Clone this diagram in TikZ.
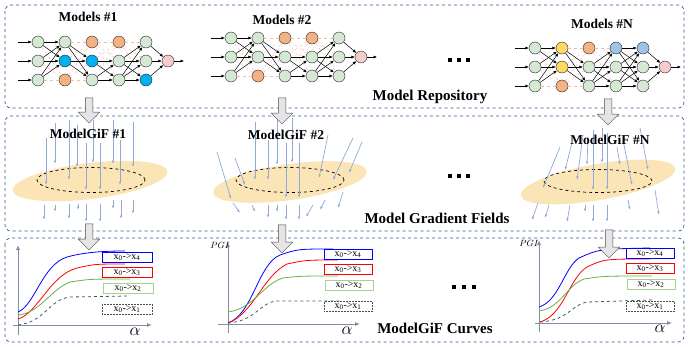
\documentclass[tikz,border=0pt]{standalone}
\usepackage{fontspec}
\setmainfont{Liberation Serif}
\usetikzlibrary{arrows.meta,shapes.arrows,shapes.geometric}

\definecolor{frameblue}{HTML}{2F5597}
\definecolor{nc0}{HTML}{D5E8D4}
\definecolor{nc1}{HTML}{00B0F0}
\definecolor{nc2}{HTML}{F4B183}
\definecolor{nc3}{HTML}{FFD966}
\definecolor{nc4}{HTML}{9DC3E6}
\definecolor{outpink}{HTML}{F4CCCC}
\definecolor{lostpink}{HTML}{F4B8AE}
\definecolor{blobfill}{HTML}{FBE5B6}
\definecolor{gradblue}{HTML}{8EAADB}
\definecolor{axisgray}{HTML}{7F8FA6}
\definecolor{cblue}{HTML}{0000FF}
\definecolor{cred}{HTML}{FF0000}
\definecolor{cgreen}{HTML}{70AD47}
\definecolor{lgreen}{HTML}{A9D18E}
\definecolor{cgray}{HTML}{44546A}

\tikzstyle{frame} = [draw=frameblue, dashed, line width=0.7pt, rounded corners=6pt]
\tikzstyle{unit} = [circle, draw=black!85, line width=0.4pt, minimum size=12pt, inner sep=0pt]
\tikzstyle{link} = [-{Latex[length=3.5pt,width=3pt]}, line width=0.5pt]
\tikzstyle{lost} = [lostpink, dashed, line width=0.4pt]
\tikzstyle{title} = [font=\fontsize{13.5}{14}\selectfont\bfseries]
\tikzstyle{panel} = [font=\fontsize{15}{16}\selectfont\bfseries]
\tikzstyle{pass} = [single arrow, shape border rotate=270, draw=black!70, fill=black!10, line width=0.5pt,
  inner sep=3.5pt, minimum width=17pt, single arrow head indent=0pt]
\tikzstyle{blob} = [ellipse, fill=blobfill, inner sep=0pt]
\tikzstyle{ring} = [ellipse, draw, dashed, line width=0.7pt, inner sep=0pt]
\tikzstyle{grad} = [gradblue, line width=0.7pt, -{Latex[length=3.5pt,width=2.5pt]}]
\tikzstyle{axis} = [axisgray, line width=0.8pt, -{Latex[length=5pt,width=4pt]}]
\tikzstyle{leg} = [draw, minimum height=10pt, inner sep=0pt, font=\fontsize{10}{10}\selectfont]
\tikzstyle{dotbox} = [fill, minimum size=3.5pt, inner sep=0pt]
\tikzstyle{curve} = [line width=0.8pt]

\newcommand{\xpair}[1]{x\textsubscript{0}->x\textsubscript{#1}}

\begin{document}
\begin{tikzpicture}[x=1pt,y=-1pt]
\useasboundingbox (0,0) rectangle (688,346);

% three panels
\draw[frame] (5,5) rectangle (684,108);
\draw[frame] (5,116) rectangle (684,231);
\draw[frame] (5,238) rectangle (684,342);

% model repository: 0 green, 1 blue, 2 orange (dropped), 3 yellow, 4 light blue
\foreach \net/\ox/\oy/\codes in {a/38/42/{0,0,0,0,1,2,2,1,0,2,0,0,0,0,1},
                                b/231/38/{0,0,0,0,0,2,2,0,0,2,0,0,0,0,0},
                                n/535/48/{0,0,0,3,3,2,2,0,0,4,0,0,4,0,0}} {
  \edef\arr{{\codes}}
  \foreach \c in {1,...,5}
    \foreach \r in {1,2,3} {
      \pgfmathtruncatemacro\idx{3*(\c-1)+\r-1}
      \pgfmathtruncatemacro\k{\arr[\idx]}
      \node[unit, fill=nc\k] (\net-\c-\r) at ({\ox+27*(\c-1)},{\oy+19*(\r-1)}) {};
    }
  \node[unit, fill=outpink] (\net-out) at ({\ox+27*4+22},{\oy+19}) {};
  \foreach \c [evaluate=\c as \d using int(\c+1)] in {1,...,4}
    \foreach \i in {1,2,3}
      \foreach \j in {1,2,3} {
        \pgfmathtruncatemacro\ia{3*(\c-1)+\i-1}
        \pgfmathtruncatemacro\ib{3*\c+\j-1}
        \pgfmathtruncatemacro\ka{\arr[\ia]}
        \pgfmathtruncatemacro\kb{\arr[\ib]}
        \pgfmathtruncatemacro\drop{or(\ka==2,\kb==2)}
        \ifnum\drop=1 \draw[lost] (\net-\c-\i) -- (\net-\d-\j);
        \else \draw[link] (\net-\c-\i) -- (\net-\d-\j); \fi
      }
  \foreach \r in {1,2,3} {
    \coordinate (\net-in-\r) at ({\ox-20},{\oy+19*(\r-1)});
    \draw[link] (\net-in-\r) -- (\net-1-\r);
    \draw[link] (\net-5-\r) -- (\net-out);
  }
  \coordinate (\net-end) at ({\ox+27*4+38},{\oy+19});
  \draw[link] (\net-out) -- (\net-end);
}

\node[title] (t1) at (88,17) {Models \#1};
\node[title] (t2) at (282,20) {Models \#2};
\node[title] (tn) at (602,24) {Models \#N};
\node[panel] (repo) at (430,97) {Model Repository};

% model gradient fields
\node[blob, minimum width=156pt, minimum height=36pt, rotate=7] (blob1) at (90,181) {};
\node[blob, minimum width=155pt, minimum height=36pt, rotate=8] (blob2) at (290,182) {};
\node[blob, minimum width=157pt, minimum height=36pt, rotate=10] (blobn) at (598,182) {};
\node[ring, minimum width=108pt, minimum height=25pt] (ring1) at (91,180) {};
\node[ring, minimum width=108pt, minimum height=25pt] (ring2) at (290,180) {};
\node[ring, minimum width=108pt, minimum height=23pt] (ringn) at (598,181) {};

\foreach \xa/\ya/\xb/\yb in {46/138/46/185, 55/123/55/164, 69/120/69/180, 77/125/77/167,
    86/143/86/190, 93/120/93/163, 100/143/100/190, 113/120/113/164, 120/140/120/185,
    133/122/133/167, 44/205/44/220, 55/205/55/212, 69/204/69/219, 78/204/78/210,
    86/204/86/222, 100/204/100/222, 113/200/113/209, 121/200/121/219, 133/200/133/214}
  \draw[grad] (\xa,\ya) -- (\xb,\yb);
\foreach \xa/\ya/\xb/\yb in {217/152/231/199, 235/158/245/185, 255/122/255/180, 268/140/268/180,
    277/118/277/165, 286/143/286/198, 292/118/292/163, 299/143/299/198, 328/135/319/178,
    353/138/333/180, 362/142/349/173, 233/203/240/213, 252/205/255/212, 268/205/268/218,
    277/205/277/212, 286/205/286/220, 299/205/299/220, 313/205/306/217, 325/200/320/210,
    343/192/338/208}
  \draw[grad] (\xa,\ya) -- (\xb,\yb);
\foreach \xa/\ya/\xb/\yb in {560/147/543/188, 572/143/565/170, 583/135/577/180, 588/137/587/165,
    593/130/593/190, 602/128/602/163, 607/133/607/190, 617/147/620/165, 623/140/632/185,
    640/128/648/170, 538/203/532/220, 549/205/545/218, 570/205/567/222, 585/205/585/212,
    593/205/593/222, 607/205/607/222, 628/200/630/210, 655/190/659/215}
  \draw[grad] (\xa,\ya) -- (\xb,\yb);

\node[title] (g1) at (88,134) {ModelGiF \#1};
\node[title] (g2) at (286,135) {ModelGiF \#2};
\node[title] (gn) at (610,140) {ModelGiF \#N};
\node[panel] (fields) at (437,218) {Model Gradient Fields};

% modelgif curves
\coordinate (a-yb) at (18,335);  \coordinate (a-yt) at (18,245);
\coordinate (a-xl) at (13,325);  \coordinate (a-xr) at (152,325);
\coordinate (b-yb) at (228,333); \coordinate (b-yt) at (228,242);
\coordinate (b-xl) at (218,324); \coordinate (b-xr) at (360,324);
\coordinate (n-yb) at (539,332); \coordinate (n-yt) at (539,240);
\coordinate (n-xl) at (535,323); \coordinate (n-xr) at (672,323);
\foreach \p in {a,b,n} {
  \draw[axis] (\p-yb) -- (\p-yt);
  \draw[axis] (\p-xl) -- (\p-xr);
}
\node[font=\fontsize{19}{19}\selectfont] (al1) at (135,332) {$\alpha$};
\node[font=\fontsize{19}{19}\selectfont] (al2) at (347,331) {$\alpha$};
\node[font=\fontsize{19}{19}\selectfont] (aln) at (660,329) {$\alpha$};
\node[font=\fontsize{9}{9}\selectfont] (pg2) at (220,245) {$PGI$};
\node[font=\fontsize{9}{9}\selectfont] (pgn) at (529,243) {$PGI$};

\begin{scope}[shift={(18,325)}]
  \draw[curve, cblue] (0,-13) .. controls (17,-20) and (24,-60) .. (49,-68) .. controls (67,-73) and (87,-74) .. (107,-74);
  \draw[curve, cred] (0,-6) .. controls (20,-12) and (32,-50) .. (59,-57) .. controls (77,-61) .. (107,-61);
  \draw[curve, cgreen] (0,-10) .. controls (22,-12) and (32,-35) .. (52,-43) .. controls (72,-46) .. (112,-46);
  \draw[curve, cgray, dashed] (0,0) .. controls (27,-3) and (30,-25) .. (52,-28) -- (110,-29);
\end{scope}
\begin{scope}[shift={(228,324)}]
  \draw[curve, cblue] (0,-1) .. controls (25,-10) and (30,-60) .. (52,-69) .. controls (70,-75) .. (105,-75);
  \draw[curve, cred] (0,-1) .. controls (25,-10) and (35,-48) .. (59,-60) .. controls (78,-64) .. (110,-64);
  \draw[curve, cgreen] (0,-12) .. controls (25,-15) and (35,-40) .. (55,-46) .. controls (72,-48) .. (110,-48);
  \draw[curve, cgray, dashed] (0,-1) .. controls (28,-3) and (32,-22) .. (49,-23) -- (112,-23);
\end{scope}
\begin{scope}[shift={(539,323)}]
  \draw[curve, cblue] (0,-16) .. controls (20,-22) and (25,-55) .. (40,-65) .. controls (60,-74) .. (111,-75);
  \draw[curve, cred] (1,-1) .. controls (25,-8) and (30,-45) .. (48,-56) .. controls (65,-64) .. (111,-64);
  \draw[curve, cgreen] (0,-12) .. controls (22,-15) and (28,-38) .. (45,-44) .. controls (65,-47) .. (113,-47);
  \draw[curve, cgray, dashed] (1,-1) .. controls (30,-3) and (32,-18) .. (48,-21) -- (114,-23);
\end{scope}

\foreach \p/\x/\w/\ya/\yb/\yc/\yd in {a/127/50/257/272/288/309, b/348/48/254/269/285/306, n/650/48/253/268/284/306} {
  \node[leg, draw=cblue, line width=0.8pt, minimum width=\w pt] (\p-l4) at (\x,\ya) {\xpair{4}};
  \node[leg, draw=cred, line width=0.8pt, minimum width=\w pt] (\p-l3) at (\x,\yb) {\xpair{3}};
  \node[leg, draw=lgreen, line width=0.8pt, minimum width=\w pt] (\p-l2) at (\x+1,\yc) {\xpair{2}};
  \node[leg, draw=black!70, densely dotted, line width=0.5pt, minimum width=\w pt] (\p-l1) at (\x,\yd) {\xpair{1}};
}
\node[panel] (curves) at (435,328) {ModelGiF Curves};

% dots
\foreach \y in {60,176}
  \foreach \x in {450,459,468}
    \node[dotbox] at (\x,\y) {};
\foreach \x in {454,464,474}
  \node[dotbox] at (\x,287) {};

% passing arrows
\node[pass, minimum height=25pt] (p1) at (89,108.5) {};
\node[pass, minimum height=26pt] (p2) at (282,109) {};
\node[pass, minimum height=26pt] (pn) at (608,110) {};
\node[pass, minimum height=26pt] (q1) at (89,235) {};
\node[pass, minimum height=28pt] (q2) at (282,237) {};
\node[pass, minimum height=28pt] (qn) at (609,242) {};
\end{tikzpicture}
\end{document}
